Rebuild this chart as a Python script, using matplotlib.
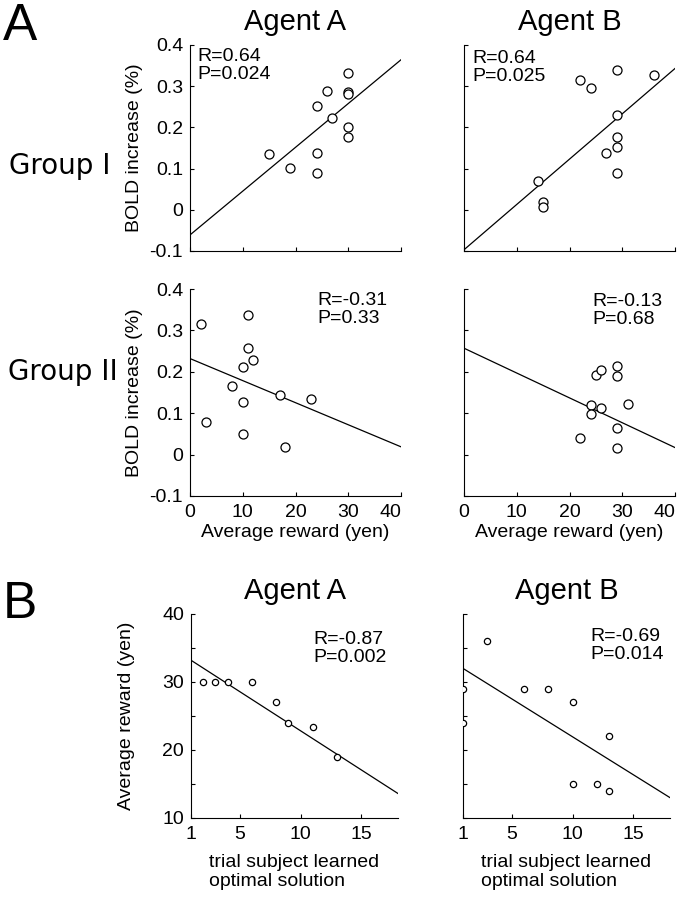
import matplotlib
matplotlib.use("Agg")
import matplotlib.pyplot as plt
import numpy as np

plt.rcParams['font.family'] = ['Liberation Sans', 'DejaVu Sans']

# panel A, Group I
g1a_x = [15, 19, 24, 24, 24, 26, 27, 30, 30, 30, 30, 30]
g1a_y = [0.136, 0.102, 0.252, 0.139, 0.090, 0.288, 0.223, 0.332, 0.285, 0.280, 0.202, 0.177]
g1b_x = [14, 15, 15, 22, 24, 27, 29, 29, 29, 29, 29, 36]
g1b_y = [0.070, 0.018, 0.008, 0.315, 0.295, 0.137, 0.339, 0.230, 0.177, 0.153, 0.090, 0.327]
# panel A, Group II
g2a_x = [2, 3, 8, 10, 10, 10, 11, 11, 12, 17, 18, 23]
g2a_y = [0.315, 0.078, 0.165, 0.211, 0.127, 0.050, 0.337, 0.258, 0.228, 0.143, 0.018, 0.135]
g2b_x = [25, 26, 29, 29, 24, 26, 24, 31, 29, 22, 29]
g2b_y = [0.193, 0.204, 0.213, 0.191, 0.121, 0.112, 0.098, 0.123, 0.065, 0.041, 0.015]
# panel B
bA_x = [2, 3, 4, 6, 8, 9, 11, 13]
bA_y = [30, 30, 30, 30, 27, 24, 23.4, 18.9]
bB_x = [1, 1, 3, 6, 8, 10, 13, 10, 12, 13]
bB_y = [29, 24, 36, 29, 29, 27, 22, 15, 15, 14]

# regression lines (value at left edge of x range, slope)
fit_int = [-0.061, -0.097, 0.232, 0.257, 33.2, 32.0]
fit_slope = [0.01063, 0.0110, -0.00533, -0.0060, -1.153, -1.118]
stats = ["R=0.64\nP=0.024", "R=0.64\nP=0.025", "R=-0.31\nP=0.33",
         "R=-0.13\nP=0.68", "R=-0.87\nP=0.002", "R=-0.69\nP=0.014"]

W, H = 679, 899
fig = plt.figure(figsize=(W / 100, H / 100), dpi=100)


def box(l, t, r, b):
    return [l / W, 1 - b / H, (r - l) / W, (b - t) / H]


axes = [
    fig.add_axes(box(190, 45, 401, 251)),
    fig.add_axes(box(464, 45, 675, 251)),
    fig.add_axes(box(190, 289, 401, 496)),
    fig.add_axes(box(464, 289, 675, 496)),
    fig.add_axes(box(191, 614, 398, 818)),
    fig.add_axes(box(463, 614, 670, 818)),
]
xs = [g1a_x, g1b_x, g2a_x, g2b_x, bA_x, bB_x]
ys = [g1a_y, g1b_y, g2a_y, g2b_y, bA_y, bB_y]
stat_pos = [(0.035, 0.985), (0.038, 0.975), (0.605, 0.985),
            (0.61, 0.98), (0.59, 0.915), (0.613, 0.93)]

for i, ax in enumerate(axes):
    panelB = i >= 4
    if panelB:
        x0, x1 = 1, 18
        ax.set_ylim(10, 40)
        ax.set_yticks([10, 15, 20, 25, 30, 35, 40])
        ax.set_yticklabels(["10", "", "20", "", "30", "", "40"])
        ax.set_xticks([1, 5, 10, 15])
        ms = 4.5
    else:
        x0, x1 = 0, 40
        ax.set_ylim(-0.1, 0.4)
        ax.set_yticks([-0.1, 0, 0.1, 0.2, 0.3, 0.4])
        ax.set_yticklabels(["-0.1", "0", "0.1", "0.2", "0.3", "0.4"])
        ax.set_xticks([0, 10, 20, 30, 40])
        ms = 6.5
    ax.set_xlim(x0, x1)
    ax.plot(xs[i], ys[i], 'o', mfc='white', mec='black', mew=0.9, ms=ms, zorder=3)
    lx = np.array([x0, x1])
    ax.plot(lx, fit_int[i] + fit_slope[i] * (lx - x0), color='black', lw=0.9, zorder=2)
    ax.text(stat_pos[i][0], stat_pos[i][1], stats[i], transform=ax.transAxes,
            va='top', ha='left', fontsize=14, linespacing=1.05)
    for s in ['top', 'right']:
        ax.spines[s].set_visible(False)
    ax.tick_params(direction='in', length=3, labelsize=14, width=0.8)
    ax.tick_params(axis='x', pad=6)
    ax.tick_params(axis='y', pad=5)
    if i % 2 == 1:
        ax.set_yticklabels([])
    if i < 2:
        ax.set_xticklabels([])

# the last "40" label sits a little inside the axis end in the original
for ax in [axes[2], axes[3]]:
    lab = ax.get_xticklabels()[-1]
    lab.set_horizontalalignment('right')
    lab.set_x(41.2)

for i in [0, 2]:
    axes[i].set_ylabel("BOLD increase (%)", fontsize=14)
    axes[i].yaxis.set_label_coords(-0.225, 0.5)
axes[4].set_ylabel("Average reward (yen)", fontsize=14)
axes[4].yaxis.set_label_coords(-0.27, 0.5)
for i in [2, 3]:
    axes[i].set_xlabel("Average reward (yen)", fontsize=14, labelpad=2)
for i in [4, 5]:
    axes[i].set_xlabel("trial subject learned\noptimal solution", fontsize=14,
                       labelpad=8, multialignment='left', linespacing=1.1)

for i, t in zip([0, 1, 4, 5], ["Agent A", "Agent B", "Agent A", "Agent B"]):
    axes[i].set_title(t, fontsize=21, pad=11)

fig.text(3 / W, 1 - 40 / H, "A", fontsize=37, va='baseline', ha='left')
fig.text(3 / W, 1 - 618 / H, "B", fontsize=37, va='baseline', ha='left')
fig.text(60 / W, 1 - 166 / H, "Group I", fontsize=20, va='center', ha='center',
         family=['DejaVu Sans'])
fig.text(63 / W, 1 - 372 / H, "Group II", fontsize=20, va='center', ha='center',
         family=['DejaVu Sans'])

fig.savefig("out.png", dpi=100)
